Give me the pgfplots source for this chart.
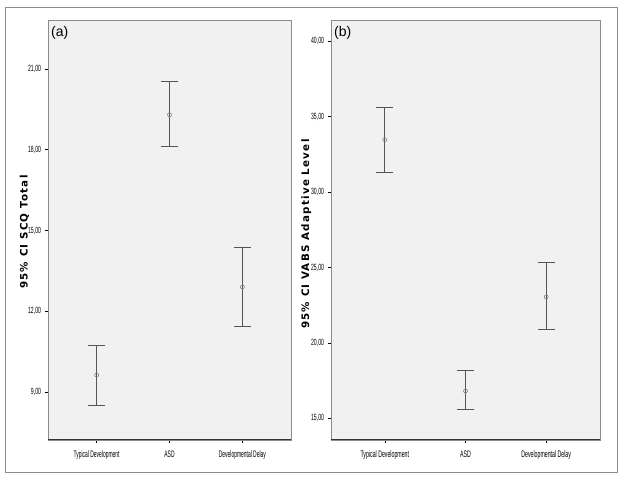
\documentclass[border=0pt]{standalone}
\usepackage{pgfplots}
\pgfplotsset{compat=1.18}
\usepackage{graphicx}
\usepackage{fontspec}
\setmainfont{Liberation Sans}
\newfontfamily\labfont{DejaVu Sans}[LetterSpace=12]
\definecolor{plotbg}{HTML}{F1F1F1}
\definecolor{framegray}{HTML}{8C8C8C}
\definecolor{bargray}{HTML}{555555}

\pgfplotsset{
  spssci/.style={
    scale only axis,
    height=420pt,
    anchor=south west,
    axis background/.style={fill=plotbg},
    axis line style={framegray, line width=0.8pt},
    xmin=-0.667, xmax=2.667,
    xtick={0,1,2},
    xtick pos=bottom, ytick pos=left,
    tick align=outside,
    major tick length=3.5pt,
    tick style={black, line width=0.6pt},
    /pgf/number format/assume math mode=true,
    xticklabel style={font=\fontsize{9.5}{10}\selectfont, yshift=-4pt},
    yticklabel style={font=\fontsize{9}{9}\selectfont},
    yticklabel={\scalebox{0.57}[1]{\pgfmathprintnumber[fixed,fixed zerofill,precision=2,use comma]{\tick}}},
    ylabel style={anchor=center, font=\fontsize{10.3}{11}\labfont\bfseries},
    after end axis/.code={
      \draw[black!80, line width=1pt] (rel axis cs:0,0) -- (rel axis cs:1,0);
    },
  },
  ciplot/.style={
    only marks,
    color=bargray,
    mark=o,
    mark size=2pt,
    mark options={line width=0.6pt, color=gray},
    error bars/.cd,
      y dir=both, y explicit,
      error mark=|,
      error mark options={line width=1.1pt, mark size=8.5pt, color=bargray},
      error bar style={line width=0.8pt, color=bargray},
  },
}

\begin{document}
\begin{tikzpicture}
  \useasboundingbox (0pt,0pt) rectangle (624pt,478pt);
  \draw[framegray, line width=0.8pt] (5pt,6pt) rectangle (617pt,471pt);

  % panel (a)
  \begin{axis}[
    spssci,
    at={(48pt,38pt)},
    width=243pt,
    ymin=7.22, ymax=22.82,
    ytick={9,12,15,18,21},
    ylabel={95\% CI SCQ Total},
    ylabel style={at={(axis description cs:-0.097,0.495)}},
    xticklabels={\scalebox{0.52}[1]{Typical Development},\scalebox{0.52}[1]{ASD},\scalebox{0.52}[1]{Developmental Delay}},
  ]
    \addplot[ciplot] coordinates {
      (0,9.63)  += (0,1.115) -= (0,1.13)
      (1,19.30) += (0,1.24) -= (0,1.18)
      (2,12.90) += (0,1.47) -= (0,1.48)
    };
    \node[anchor=north west, font=\fontsize{14}{16}\selectfont, inner sep=0pt]
      at ([xshift=3pt,yshift=-6pt]rel axis cs:0,1) {(a)};
  \end{axis}

  % panel (b)
  \begin{axis}[
    spssci,
    at={(331pt,38pt)},
    width=269pt,
    ymin=13.56, ymax=41.41,
    ytick={15,20,25,30,35,40},
    ylabel={95\% CI VABS Adaptive Level},
    ylabel style={at={(axis description cs:-0.092,0.49)}},
    xticklabels={\scalebox{0.55}[1]{Typical Development},\scalebox{0.55}[1]{ASD},\scalebox{0.55}[1]{Developmental Delay}},
  ]
    \addplot[ciplot] coordinates {
      (0,33.47) += (0,2.13) -= (0,2.17)
      (1,16.81) += (0,1.33) -= (0,1.22)
      (2,23.05) += (0,2.28) -= (0,2.19)
    };
    \node[anchor=north west, font=\fontsize{14}{16}\selectfont, inner sep=0pt]
      at ([xshift=3pt,yshift=-6pt]rel axis cs:0,1) {(b)};
  \end{axis}
\end{tikzpicture}
\end{document}
